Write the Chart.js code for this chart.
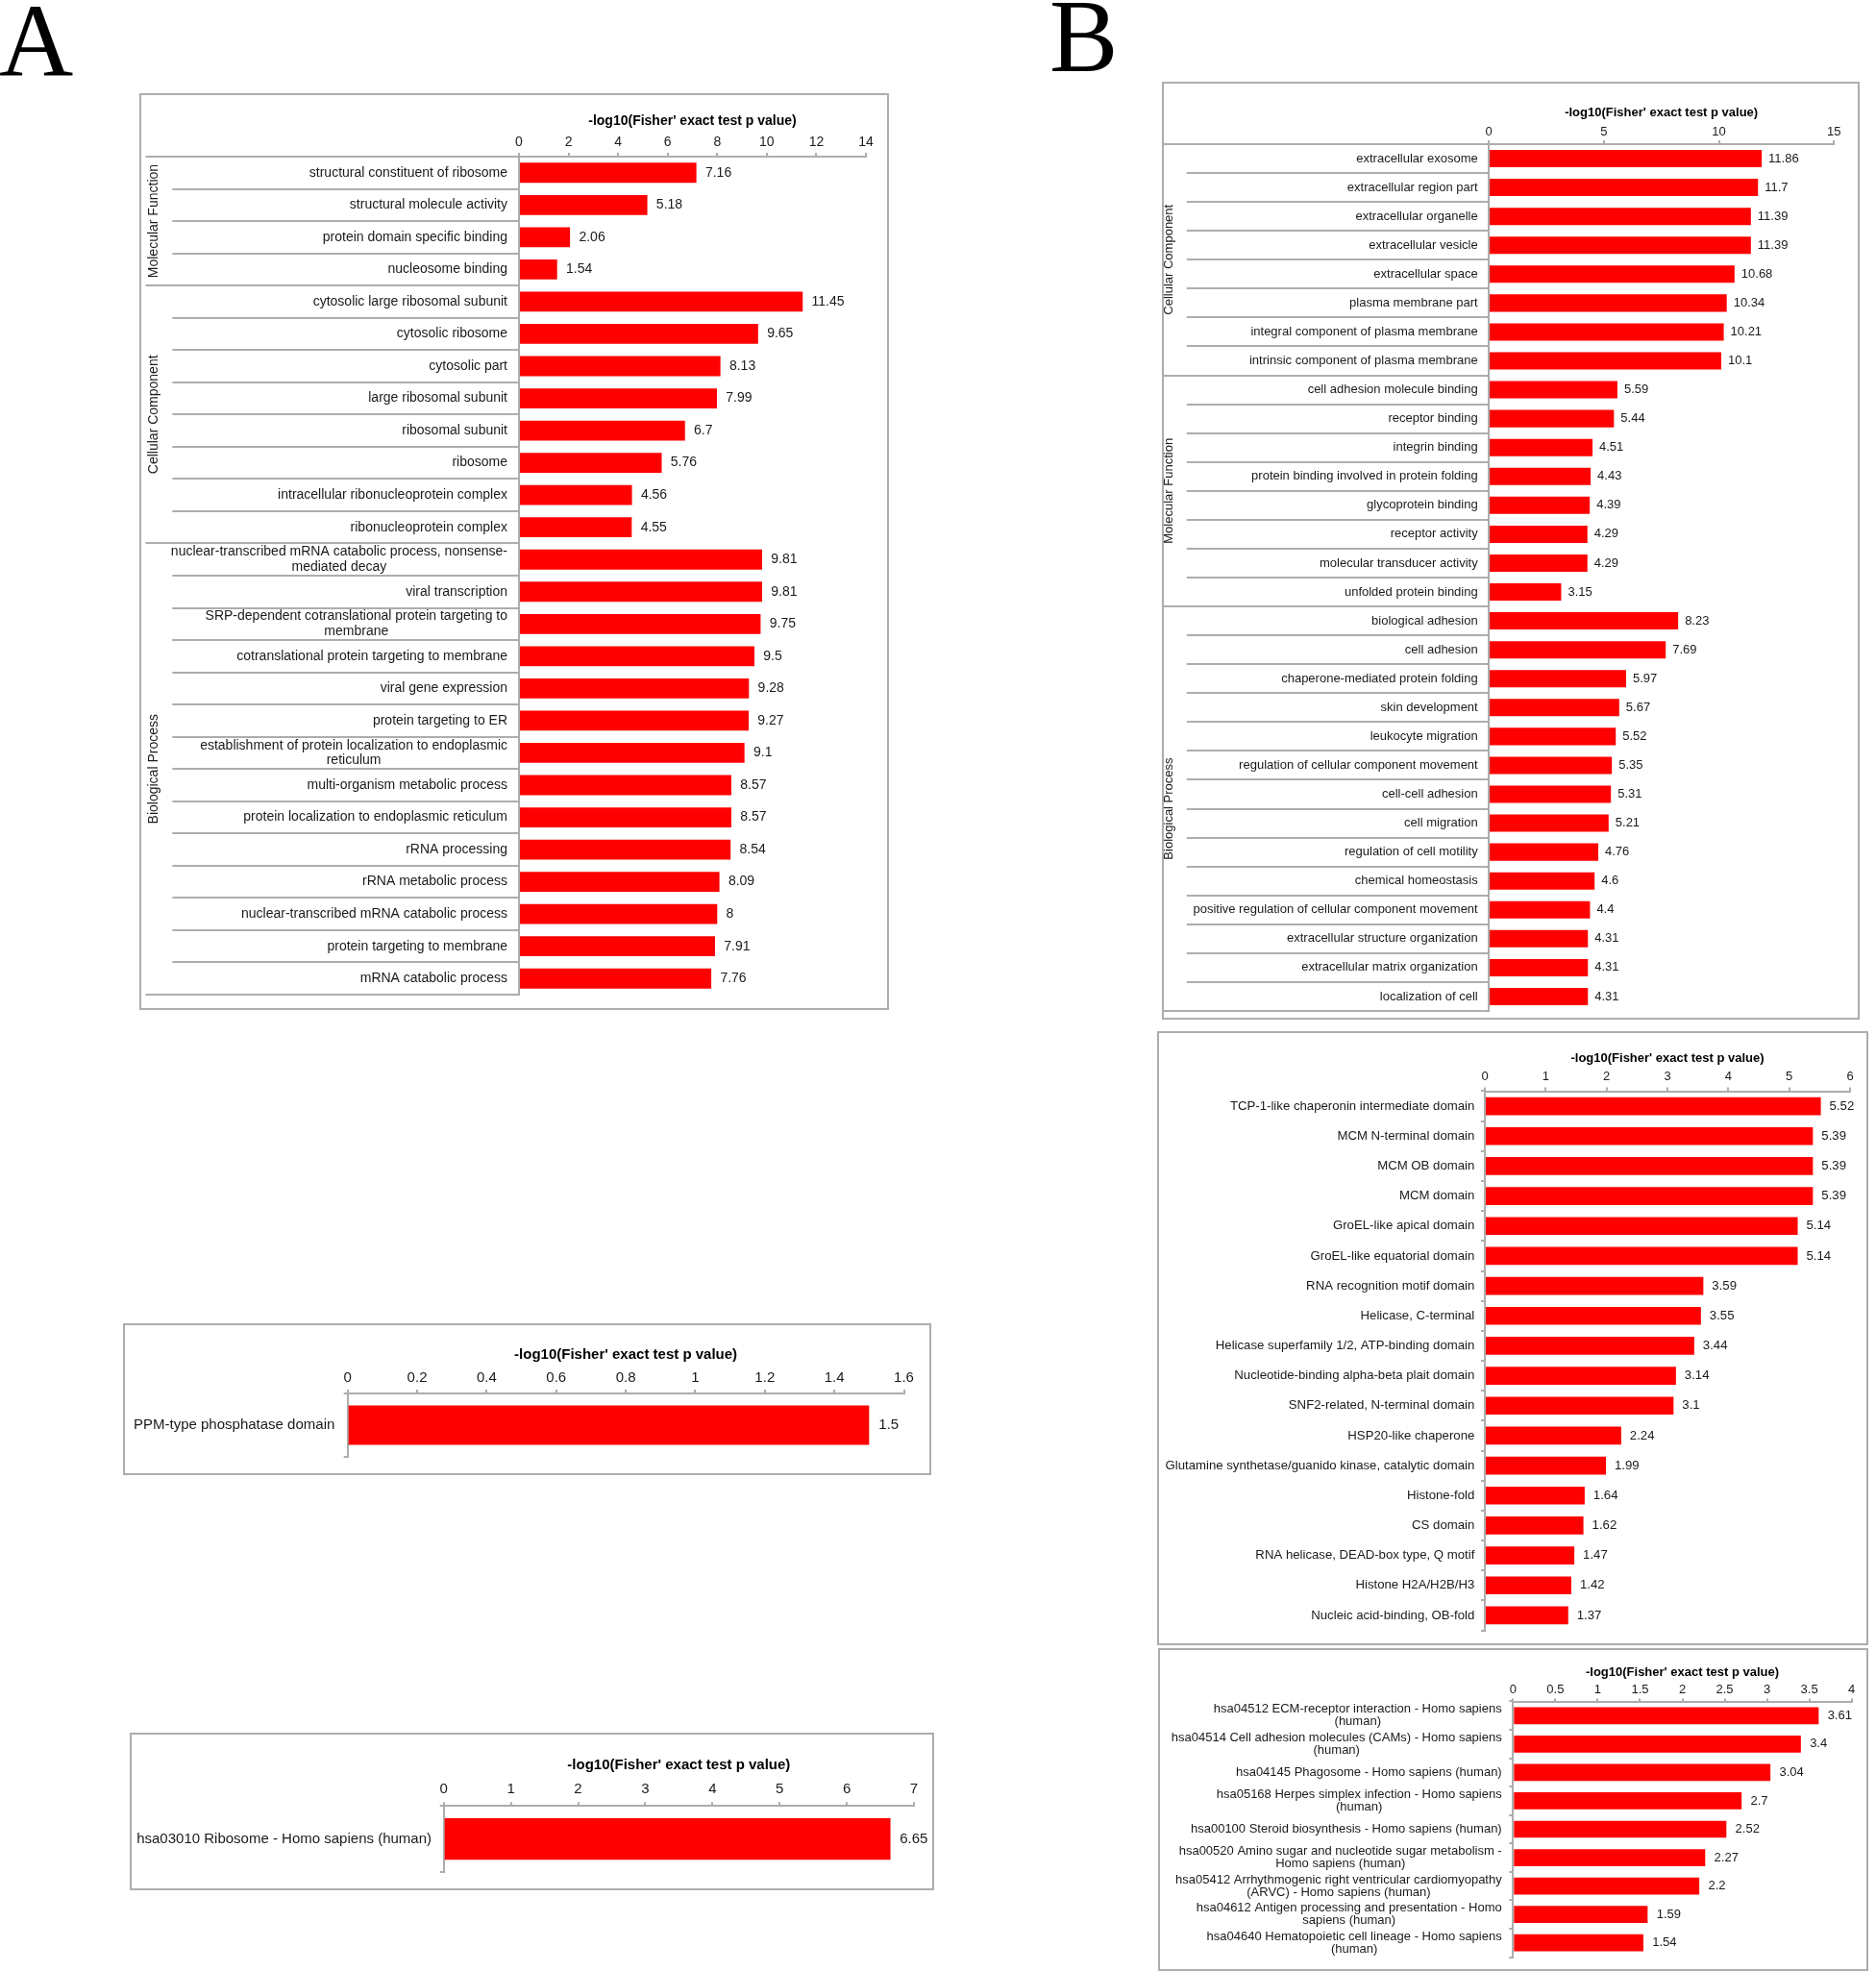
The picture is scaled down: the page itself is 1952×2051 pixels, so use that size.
<!DOCTYPE html>
<html>
<head>
<meta charset="utf-8">
<script src="https://cdn.jsdelivr.net/npm/chart.js@4.4.1/dist/chart.umd.min.js"></script>
<style>
  html, body { margin: 0; padding: 0; background: #fff; }
  body { width: 1952px; height: 2051px; position: relative; overflow: hidden; }
  .panel { position: absolute; box-sizing: border-box; border: 2px solid #adadad; }
  .panel canvas { position: absolute; left: -2px; top: -2px; }
  .letter { position: absolute; font-family: "Liberation Serif", "DejaVu Serif", serif; font-size: 107px; line-height: 107px; color: #000; }
</style>
</head>
<body>
<div class="letter" style="left:-1px; top:-10px;">A</div>
<div class="letter" style="left:1092px; top:-15px;">B</div>

<div class="panel" style="left:145px; top:97px; width:780px; height:954px;"><canvas id="goA" width="780" height="954"></canvas></div>
<div class="panel" style="left:128px; top:1377px; width:841px; height:158px;"><canvas id="domainA" width="841" height="158"></canvas></div>
<div class="panel" style="left:135px; top:1803px; width:837px; height:164px;"><canvas id="keggA" width="837" height="164"></canvas></div>
<div class="panel" style="left:1209px; top:85px; width:726px; height:976px;"><canvas id="goB" width="726" height="976"></canvas></div>
<div class="panel" style="left:1204px; top:1073px; width:740px; height:639px;"><canvas id="domainB" width="740" height="639"></canvas></div>
<div class="panel" style="left:1205px; top:1715px; width:739px; height:336px;"><canvas id="keggB" width="739" height="336"></canvas></div>

<script>
// --- Datos ---
const AXIS_TITLE = "-log10(Fisher' exact test p value)";

// A: GO
const goACategories = [
  'structural constituent of ribosome', 'structural molecule activity',
  'protein domain specific binding', 'nucleosome binding',
  'cytosolic large ribosomal subunit', 'cytosolic ribosome', 'cytosolic part',
  'large ribosomal subunit', 'ribosomal subunit', 'ribosome',
  'intracellular ribonucleoprotein complex', 'ribonucleoprotein complex',
  ['nuclear-transcribed mRNA catabolic process, nonsense-', 'mediated decay'],
  'viral transcription',
  ['SRP-dependent cotranslational protein targeting to', 'membrane'],
  'cotranslational protein targeting to membrane', 'viral gene expression',
  'protein targeting to ER',
  ['establishment of protein localization to endoplasmic', 'reticulum'],
  'multi-organism metabolic process', 'protein localization to endoplasmic reticulum',
  'rRNA processing', 'rRNA metabolic process', 'nuclear-transcribed mRNA catabolic process',
  'protein targeting to membrane', 'mRNA catabolic process'
];
const goAValues = [7.16, 5.18, 2.06, 1.54, 11.45, 9.65, 8.13, 7.99, 6.7, 5.76, 4.56, 4.55,
  9.81, 9.81, 9.75, 9.5, 9.28, 9.27, 9.1, 8.57, 8.57, 8.54, 8.09, 8, 7.91, 7.76];
const goAGroupNames = ['Molecular Function', 'Cellular Component', 'Biological Process'];
const goAGroupSizes = [4, 8, 14];
const goATicks = [0, 2, 4, 6, 8, 10, 12, 14];

// A: dominio
const domainACategories = ['PPM-type phosphatase domain'];
const domainAValues = [1.5];
const domainATicks = [0, 0.2, 0.4, 0.6, 0.8, 1, 1.2, 1.4, 1.6];

// A: KEGG
const keggACategories = ['hsa03010 Ribosome - Homo sapiens (human)'];
const keggAValues = [6.65];
const keggATicks = [0, 1, 2, 3, 4, 5, 6, 7];

// B: GO
const goBCategories = [
  'extracellular exosome', 'extracellular region part', 'extracellular organelle',
  'extracellular vesicle', 'extracellular space', 'plasma membrane part',
  'integral component of plasma membrane', 'intrinsic component of plasma membrane',
  'cell adhesion molecule binding', 'receptor binding', 'integrin binding',
  'protein binding involved in protein folding', 'glycoprotein binding', 'receptor activity',
  'molecular transducer activity', 'unfolded protein binding',
  'biological adhesion', 'cell adhesion', 'chaperone-mediated protein folding',
  'skin development', 'leukocyte migration', 'regulation of cellular component movement',
  'cell-cell adhesion', 'cell migration', 'regulation of cell motility', 'chemical homeostasis',
  'positive regulation of cellular component movement', 'extracellular structure organization',
  'extracellular matrix organization', 'localization of cell'
];
const goBValues = [11.86, 11.7, 11.39, 11.39, 10.68, 10.34, 10.21, 10.1,
  5.59, 5.44, 4.51, 4.43, 4.39, 4.29, 4.29, 3.15,
  8.23, 7.69, 5.97, 5.67, 5.52, 5.35, 5.31, 5.21, 4.76, 4.6, 4.4, 4.31, 4.31, 4.31];
const goBGroupNames = ['Cellular Component', 'Molecular Function', 'Biological Process'];
const goBGroupSizes = [8, 8, 14];
const goBTicks = [0, 5, 10, 15];

// B: dominio
const domainBCategories = [
  'TCP-1-like chaperonin intermediate domain', 'MCM N-terminal domain', 'MCM OB domain',
  'MCM domain', 'GroEL-like apical domain', 'GroEL-like equatorial domain',
  'RNA recognition motif domain', 'Helicase, C-terminal',
  'Helicase superfamily 1/2, ATP-binding domain', 'Nucleotide-binding alpha-beta plait domain',
  'SNF2-related, N-terminal domain', 'HSP20-like chaperone',
  'Glutamine synthetase/guanido kinase, catalytic domain', 'Histone-fold', 'CS domain',
  'RNA helicase, DEAD-box type, Q motif', 'Histone H2A/H2B/H3', 'Nucleic acid-binding, OB-fold'
];
const domainBValues = [5.52, 5.39, 5.39, 5.39, 5.14, 5.14, 3.59, 3.55, 3.44, 3.14, 3.1,
  2.24, 1.99, 1.64, 1.62, 1.47, 1.42, 1.37];
const domainBTicks = [0, 1, 2, 3, 4, 5, 6];

// B: KEGG
const keggBCategories = [
  ['hsa04512 ECM-receptor interaction - Homo sapiens', '(human)'],
  ['hsa04514 Cell adhesion molecules (CAMs) - Homo sapiens', '(human)'],
  'hsa04145 Phagosome - Homo sapiens (human)',
  ['hsa05168 Herpes simplex infection - Homo sapiens', '(human)'],
  'hsa00100 Steroid biosynthesis - Homo sapiens (human)',
  ['hsa00520 Amino sugar and nucleotide sugar metabolism -', 'Homo sapiens (human)'],
  ['hsa05412 Arrhythmogenic right ventricular cardiomyopathy', '(ARVC) - Homo sapiens (human)'],
  ['hsa04612 Antigen processing and presentation - Homo', 'sapiens (human)'],
  ['hsa04640 Hematopoietic cell lineage - Homo sapiens', '(human)']
];
const keggBValues = [3.61, 3.4, 3.04, 2.7, 2.52, 2.27, 2.2, 1.59, 1.54];
const keggBTicks = [0, 0.5, 1, 1.5, 2, 2.5, 3, 3.5, 4];

// --- Estilo ---
const FONT = "'Liberation Sans', Arial, sans-serif";
const GRAY = '#adadad';
const TEXT = '#1a1a1a';
const BAR_RED = '#ff0000';

/**
 * Etiquetas de categoría: bloque alineado a la derecha, líneas centradas.
 */
const rowLabels = {
  id: 'rowLabels',
  afterDraw(chart, args, o) {
    const ys = chart.scales.y;
    const ctx = chart.ctx;
    const right = chart.chartArea.left - o.gap;
    const lh = o.size * o.lineHeight;
    ctx.save();
    ctx.font = o.size + 'px ' + FONT;
    ctx.fillStyle = TEXT;
    ctx.textAlign = 'center';
    ctx.textBaseline = 'middle';
    chart.data.labels.forEach((lab, i) => {
      const lines = [].concat(lab);
      const w = Math.max(...lines.map(t => ctx.measureText(t).width));
      const py = ys.getPixelForValue(i);
      lines.forEach((t, k) => {
        ctx.fillText(t, right - w / 2, py + (k - (lines.length - 1) / 2) * lh);
      });
    });
    ctx.restore();
  }
};

/**
 * Valor numérico al final de cada barra.
 */
const valueLabels = {
  id: 'valueLabels',
  afterDatasetsDraw(chart, args, o) {
    const ctx = chart.ctx;
    const meta = chart.getDatasetMeta(0);
    const data = chart.data.datasets[0].data;
    ctx.save();
    ctx.font = o.size + 'px ' + FONT;
    ctx.fillStyle = TEXT;
    ctx.textAlign = 'left';
    ctx.textBaseline = 'middle';
    meta.data.forEach((bar, i) => ctx.fillText(String(data[i]), bar.x + o.gap, bar.y));
    ctx.restore();
  }
};

/**
 * Líneas separadoras de filas y grupos, con el nombre del grupo girado.
 */
const groupFrame = {
  id: 'groupFrame',
  afterDraw(chart, args, o) {
    if (!o.names) return;
    const ys = chart.scales.y;
    const ctx = chart.ctx;
    const { left, top, bottom } = chart.chartArea;
    const n = chart.data.labels.length;
    const edge = i => i === 0 ? top : i === n ? bottom
      : (ys.getPixelForValue(i - 1) + ys.getPixelForValue(i)) / 2;
    const starts = [0];
    o.sizes.forEach(s => starts.push(starts[starts.length - 1] + s));

    ctx.save();
    ctx.strokeStyle = GRAY;
    ctx.lineWidth = 2;
    for (let i = 0; i <= n; i++) {
      const x0 = starts.includes(i) ? o.groupLeft : o.rowLeft;
      const yy = Math.round(edge(i));
      ctx.beginPath();
      ctx.moveTo(x0, yy);
      ctx.lineTo(left, yy);
      ctx.stroke();
    }
    ctx.font = o.size + 'px ' + FONT;
    ctx.fillStyle = TEXT;
    ctx.textAlign = 'center';
    ctx.textBaseline = 'middle';
    o.names.forEach((name, g) => {
      const cy = (edge(starts[g]) + edge(starts[g + 1])) / 2;
      ctx.save();
      ctx.translate(o.labelX, cy);
      ctx.rotate(-Math.PI / 2);
      ctx.fillText(name, 0, 0);
      ctx.restore();
    });
    ctx.restore();
  }
};

function makeChart(id, s) {
  const el = document.getElementById(id);
  return new Chart(el, {
    type: 'bar',
    data: {
      labels: s.labels,
      datasets: [{
        data: s.values,
        backgroundColor: BAR_RED,
        borderWidth: 0,
        categoryPercentage: 1,
        barPercentage: s.barPct
      }]
    },
    options: {
      indexAxis: 'y',
      responsive: false,
      animation: false,
      events: [],
      layout: { padding: { left: 0, top: 0, right: s.padRight, bottom: s.padBottom } },
      scales: {
        x: {
          position: 'top',
          min: 0,
          max: s.ticks[s.ticks.length - 1],
          afterBuildTicks: scale => { scale.ticks = s.ticks.map(v => ({ value: v })); },
          afterFit: scale => { scale.height = s.xHeight; },
          ticks: {
            autoSkip: false,
            maxRotation: 0,
            padding: s.tickPad,
            color: TEXT,
            font: { family: FONT, size: s.tickSize },
            callback: v => String(v)
          },
          grid: { drawOnChartArea: false, drawTicks: true, tickLength: s.tickLen, color: GRAY, lineWidth: 2 },
          border: { display: true, color: GRAY, width: 2 },
          title: {
            display: true,
            text: AXIS_TITLE,
            color: '#000',
            font: { family: FONT, size: s.titleSize, weight: 'bold' },
            padding: { top: s.titlePad, bottom: 0 }
          }
        },
        y: {
          type: 'category',
          offset: true,
          afterFit: scale => { scale.width = s.yWidth; },
          ticks: { display: false },
          grid: {
            display: s.yTicks,
            drawOnChartArea: false,
            drawTicks: s.yTicks,
            tickLength: 4,
            offset: true,
            color: GRAY,
            lineWidth: 2
          },
          border: { display: true, color: GRAY, width: 2 }
        }
      },
      plugins: {
        legend: { display: false },
        tooltip: { enabled: false },
        rowLabels: { gap: s.labelGap, size: s.labelSize, lineHeight: s.lineHeight || 1.1 },
        valueLabels: { gap: s.valueGap, size: s.labelSize },
        groupFrame: s.groups || {}
      }
    },
    plugins: [rowLabels, valueLabels, groupFrame]
  });
}

// --- Inicialización ---
document.addEventListener('DOMContentLoaded', () => {
  makeChart('goA', {
    labels: goACategories, values: goAValues, ticks: goATicks, barPct: 0.62,
    yWidth: 395, xHeight: 66, padRight: 24, padBottom: 16,
    titleSize: 14, titlePad: 20.6, tickSize: 14, tickPad: 2, tickLen: 4,
    labelSize: 14, labelGap: 12, valueGap: 9.3, yTicks: false,
    groups: { names: goAGroupNames, sizes: goAGroupSizes, groupLeft: 6.4, rowLeft: 34.3, labelX: 15.4, size: 14 }
  });
  makeChart('domainA', {
    labels: domainACategories, values: domainAValues, ticks: domainATicks, barPct: 0.62,
    yWidth: 233.7, xHeight: 73, padRight: 28.5, padBottom: 19,
    titleSize: 15, titlePad: 24, tickSize: 15, tickPad: 3, tickLen: 4,
    labelSize: 15, labelGap: 13.4, valueGap: 10, yTicks: true
  });
  makeChart('keggA', {
    labels: keggACategories, values: keggAValues, ticks: keggATicks, barPct: 0.63,
    yWidth: 326.7, xHeight: 76.2, padRight: 21, padBottom: 19,
    titleSize: 15, titlePad: 24.5, tickSize: 15, tickPad: 4.2, tickLen: 4,
    labelSize: 15, labelGap: 12.7, valueGap: 9.7, yTicks: true
  });
  makeChart('goB', {
    labels: goBCategories, values: goBValues, ticks: goBTicks, barPct: 0.6,
    yWidth: 340, xHeight: 65, padRight: 26.7, padBottom: 9,
    titleSize: 13, titlePad: 24.9, tickSize: 13, tickPad: 1.2, tickLen: 4,
    labelSize: 13, labelGap: 11.3, valueGap: 7, yTicks: false,
    groups: { names: goBGroupNames, sizes: goBGroupSizes, groupLeft: 0, rowLeft: 25.8, labelX: 7.5, size: 13 }
  });
  makeChart('domainB', {
    labels: domainBCategories, values: domainBValues, ticks: domainBTicks, barPct: 0.6,
    yWidth: 341, xHeight: 62.5, padRight: 19, padBottom: 15.5,
    titleSize: 13, titlePad: 20.5, tickSize: 13, tickPad: 3, tickLen: 4,
    labelSize: 13.2, labelGap: 10.7, valueGap: 9, yTicks: true
  });
  makeChart('keggB', {
    labels: keggBCategories, values: keggBValues, ticks: keggBTicks, barPct: 0.6,
    yWidth: 369.3, xHeight: 55.5, padRight: 17.3, padBottom: 14.5,
    titleSize: 13, titlePad: 17.2, tickSize: 13, tickPad: 1.4, tickLen: 3,
    labelSize: 13, labelGap: 11.6, valueGap: 9.3, yTicks: true, lineHeight: 0.98
  });
});
</script>
</body>
</html>
